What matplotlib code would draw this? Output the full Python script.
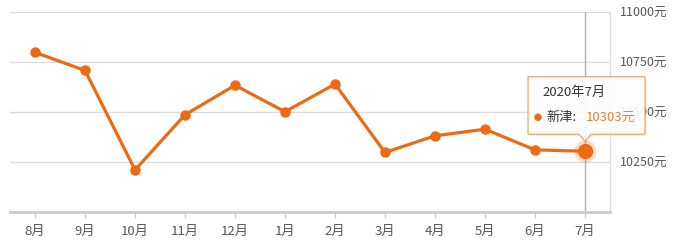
import matplotlib
matplotlib.use("Agg")
import matplotlib.pyplot as plt
from matplotlib.patches import Polygon, Circle
from matplotlib.transforms import IdentityTransform
import numpy as np

plt.rcParams['font.family'] = ['Noto Sans CJK SC', 'DejaVu Sans']

months = ['8月', '9月', '10月', '11月', '12月', '1月', '2月', '3月', '4月', '5月', '6月', '7月']
prices = [10796, 10706, 10210, 10485, 10632, 10500, 10638, 10297, 10380, 10413, 10310, 10303]
yticks = [10250, 10500, 10750, 11000]
ytick_labels = ['10250元', '10500元', '10750元', '11000元']
series_name = '新津'
tooltip_title = '2020年7月'

line_color = '#ec6a12'

fig = plt.figure(figsize=(6.73, 2.43), dpi=100)
ax = fig.add_axes([10/673, (243-212)/243, 600/673, (212-11.5)/243])

x = np.arange(len(months))
ax.set_xlim(-0.5, len(months) - 0.5)
ax.set_ylim(10000, 11000)

ax.plot(x, prices, color=line_color, lw=2.3, marker='o', ms=6.5, zorder=3, solid_capstyle='round')
# highlighted last point
ax.plot(x[-1], prices[-1], 'o', ms=16, color=line_color, alpha=0.22, mec='none', zorder=4)
ax.plot(x[-1], prices[-1], 'o', ms=10, color=line_color, zorder=5)

# crosshair
ax.axvline(x[-1], color='#b0b0b0', lw=1, zorder=2)

ax.set_yticks(yticks)
ax.set_yticklabels(ytick_labels)
ax.yaxis.tick_right()
ax.tick_params(axis='y', length=0, pad=7, labelsize=9, labelcolor='#555555')
ax.grid(axis='y', color='#dcdcdc', lw=1)
ax.set_axisbelow(True)

ax.set_xticks(x)
ax.set_xticklabels(months)
ax.tick_params(axis='x', length=4, width=1, color='#cccccc', pad=5, labelsize=9.5, labelcolor='#555555')

for s in ['left', 'top']:
    ax.spines[s].set_visible(False)
ax.spines['bottom'].set_color('#cccccc')
ax.spines['bottom'].set_linewidth(2)
ax.spines['right'].set_color('#dddddd')
ax.spines['right'].set_linewidth(1)

# tooltip anchored to last point (offsets in pixels)
fig.canvas.draw()
px, py = ax.transData.transform((x[-1], prices[-1]))
L, R, T, B = px - 57, px + 60, py + 74.5, py + 17
tip = py + 10
poly = [(L, B), (px - 6, B), (px, tip), (px + 6, B), (R, B), (R, T), (L, T)]
shadow = Polygon([(a + 1.5, b - 1.5) for a, b in poly], closed=True, transform=IdentityTransform(),
                 facecolor='#000000', alpha=0.08, edgecolor='none', zorder=9)
fig.add_artist(shadow)
box = Polygon(poly, closed=True, transform=IdentityTransform(), facecolor='white', alpha=0.92,
              edgecolor='#f2a866', lw=1, zorder=10)
fig.add_artist(box)
fig.text(L + 14, py + 58.5, tooltip_title, transform=IdentityTransform(), fontsize=9.5,
         color='#333333', va='center', ha='left', zorder=11)
fig.add_artist(Circle((L + 10, py + 34), 3, transform=IdentityTransform(), color=line_color, zorder=11))
fig.text(L + 18, py + 34, series_name + ':', transform=IdentityTransform(), fontsize=9.5,
         color='#333333', va='center', ha='left', zorder=11)
fig.text(L + 58, py + 34, f'{prices[-1]}元', transform=IdentityTransform(), fontsize=9.5,
         color='#e8803a', va='center', ha='left', zorder=11)

fig.savefig('out.png', dpi=100)
